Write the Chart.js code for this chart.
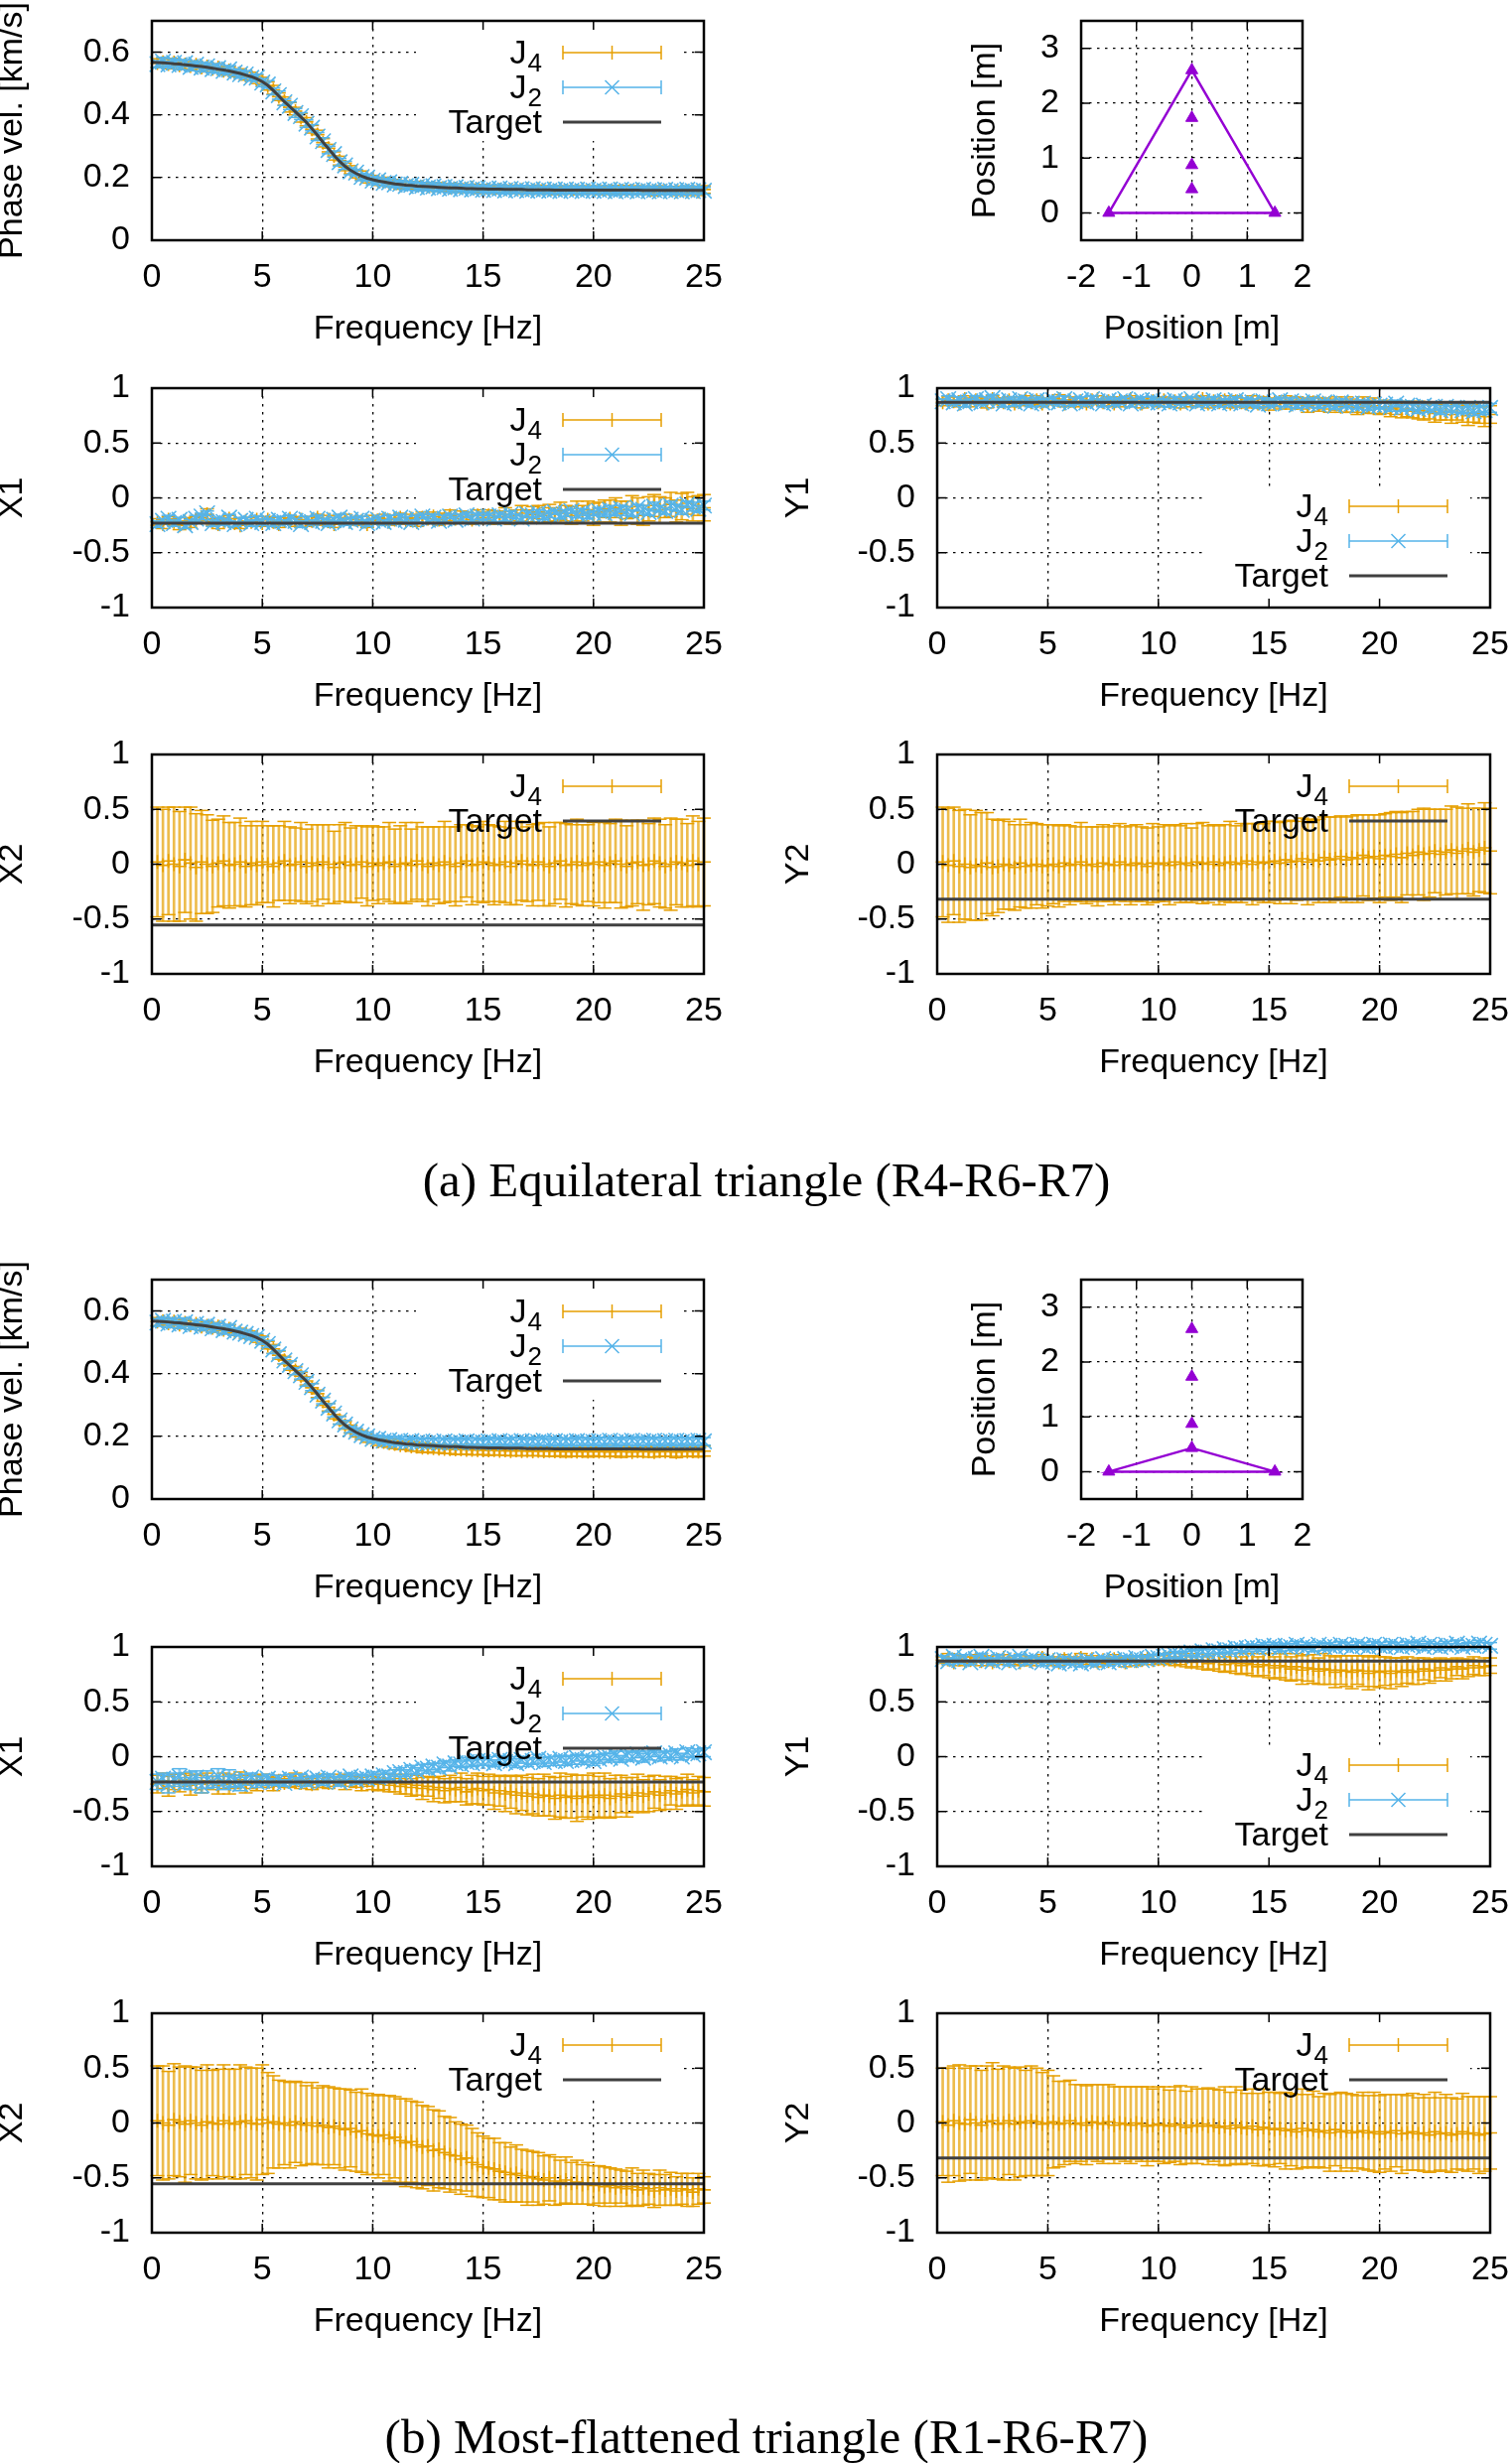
<!DOCTYPE html>
<html>
<head>
<meta charset="utf-8">
<script src="https://cdn.jsdelivr.net/npm/chart.js@4.4.1/dist/chart.umd.min.js"></script>
<style>
  html, body { margin: 0; padding: 0; background: #fff; overflow: hidden; }
  #page { position: relative; width: 1523px; height: 2481px; }
  canvas { position: absolute; }
  .cap { position: absolute; left: 322px; width: 900px; text-align: center; font: 49px/49px "Liberation Serif", serif; color: #000; white-space: nowrap; }
</style>
</head>
<body>
<div id="page"></div>
<script>
// frequency grid of the estimates [Hz]
const freq = [
  .25,.5,.75,1,1.25,1.5,1.75,2,2.25,2.5,2.75,3,3.25,3.5,3.75,4,4.25,4.5,4.75,5,
  5.25,5.5,5.75,6,6.25,6.5,6.75,7,7.25,7.5,7.75,8,8.25,8.5,8.75,9,9.25,9.5,9.75,10,
  10.25,10.5,10.75,11,11.25,11.5,11.75,12,12.25,12.5,12.75,13,13.25,13.5,13.75,14,14.25,14.5,14.75,15,
  15.25,15.5,15.75,16,16.25,16.5,16.75,17,17.25,17.5,17.75,18,18.25,18.5,18.75,19,19.25,19.5,19.75,20,
  20.25,20.5,20.75,21,21.25,21.5,21.75,22,22.25,22.5,22.75,23,23.25,23.5,23.75,24,24.25,24.5,24.75,25
];

const freqTicks = [0, 5, 10, 15, 20, 25];
const phaseTicks = [0, 0.2, 0.4, 0.6];
const unitTicks = [-1, -0.5, 0, 0.5, 1];
const posXTicks = [-2, -1, 0, 1, 2];
const posYTicks = [0, 1, 2, 3];

// target values
const phaseTarget0 = 0.568;
const phaseTarget = [
  .567,.566,.565,.563,.562,.560,.558,.556,.554,.552,.549,.546,.543,.540,.536,.532,.527,.522,.515,.506,
  .494,.478,.460,.442,.426,.410,.393,.376,.356,.335,.313,.292,.271,.252,.236,.223,.213,.205,.198,.193,
  .189,.186,.183,.180,.178,.176,.175,.173,.172,.171,.170,.169,.168,.167,.167,.166,.165,.165,.164,.164,
  .163,.163,.163,.162,.162,.162,.162,.161,.161,.161,.161,.161,.160,.160,.160,.160,.160,.160,.160,.160,
  .160,.160,.160,.160,.160,.160,.160,.160,.159,.159,.159,.159,.159,.159,.159,.159,.159,.159,.159,.159
];
const tgtX1 = -0.23, tgtY1 = 0.87, tgtX2 = -0.555, tgtY2 = -0.32;

// (a) equilateral triangle
const phJ4a = [
  .565,.568,.562,.567,.558,.561,.556,.560,.551,.554,.547,.551,.541,.542,.534,.534,.525,.524,.513,.508,
  .492,.480,.458,.444,.424,.412,.391,.378,.354,.337,.311,.294,.269,.254,.234,.225,.211,.207,.196,.195,
  .187,.188,.181,.182,.176,.178,.173,.175,.170,.173,.168,.171,.166,.169,.165,.168,.163,.167,.162,.166,
  .161,.165,.161,.164,.160,.164,.160,.163,.159,.163,.159,.163,.158,.162,.158,.162,.158,.162,.158,.162,
  .158,.162,.157,.162,.157,.161,.157,.161,.157,.161,.156,.161,.157,.161,.156,.161,.157,.161,.156,.162
];
const phJ4ea = [
  .014,.012,.015,.013,.012,.014,.013,.012,.014,.012,.013,.012,.014,.013,.012,.013,.014,.012,.013,.012,
  .013,.014,.012,.013,.015,.012,.014,.013,.012,.014,.013,.012,.013,.014,.012,.013,.012,.014,.013,.012,
  .012,.013,.011,.012,.013,.011,.012,.013,.012,.011,.012,.013,.011,.012,.013,.012,.011,.012,.013,.012,
  .012,.011,.013,.012,.011,.012,.013,.011,.012,.013,.012,.011,.013,.012,.011,.012,.013,.012,.011,.012,
  .013,.012,.011,.013,.012,.014,.012,.013,.011,.012,.014,.013,.012,.011,.013,.012,.014,.012,.013,.012
];
const phJ2a = [
  .562,.570,.561,.566,.559,.565,.553,.560,.551,.555,.546,.549,.540,.545,.535,.530,.529,.518,.519,.503,
  .497,.475,.463,.440,.429,.406,.396,.372,.359,.331,.316,.288,.275,.249,.239,.220,.216,.202,.200,.190,
  .191,.183,.185,.178,.180,.173,.177,.170,.174,.168,.172,.166,.170,.164,.169,.163,.167,.162,.166,.161,
  .165,.160,.165,.159,.164,.160,.163,.158,.163,.159,.162,.158,.162,.157,.162,.158,.161,.157,.162,.158,
  .161,.157,.162,.156,.161,.158,.160,.156,.161,.157,.160,.156,.161,.157,.160,.156,.161,.157,.160,.158
];
const phJ2ea = [
  .011,.013,.010,.012,.014,.011,.012,.010,.013,.011,.012,.014,.010,.012,.011,.013,.012,.010,.011,.013,
  .012,.011,.013,.010,.012,.014,.011,.012,.010,.013,.011,.012,.010,.012,.013,.011,.010,.012,.011,.013,
  .010,.011,.012,.010,.011,.013,.010,.012,.011,.010,.012,.011,.010,.012,.011,.010,.011,.012,.010,.011,
  .011,.010,.012,.011,.010,.011,.012,.010,.011,.012,.010,.011,.012,.010,.011,.010,.012,.011,.010,.011,
  .012,.010,.011,.013,.010,.012,.011,.010,.012,.011,.013,.010,.011,.012,.010,.011,.013,.010,.012,.011
];
const x1J4a = [
  -.22,-.24,-.20,-.22,-.25,-.21,-.23,-.20,-.18,-.15,-.22,-.24,-.21,-.19,-.23,-.25,-.21,-.22,-.20,-.23,
  -.20,-.22,-.24,-.21,-.19,-.22,-.20,-.23,-.21,-.18,-.22,-.20,-.24,-.21,-.19,-.22,-.20,-.21,-.24,-.20,
  -.21,-.19,-.22,-.20,-.18,-.21,-.19,-.22,-.18,-.19,-.17,-.20,-.18,-.16,-.19,-.17,-.18,-.20,-.16,-.18,
  -.16,-.18,-.17,-.15,-.18,-.16,-.14,-.17,-.15,-.13,-.16,-.14,-.15,-.12,-.14,-.16,-.12,-.14,-.11,-.15,
  -.13,-.10,-.12,-.09,-.14,-.11,-.08,-.12,-.16,-.10,-.07,-.11,-.09,-.06,-.12,-.08,-.05,-.10,-.07,-.09
];
const x1J4ea = [
  .03,.04,.03,.03,.04,.03,.04,.03,.03,.05,.03,.04,.03,.03,.04,.03,.03,.04,.03,.03,
  .03,.04,.03,.03,.03,.04,.03,.03,.04,.03,.03,.04,.03,.03,.04,.03,.03,.04,.03,.04,
  .03,.04,.03,.04,.04,.03,.04,.04,.05,.04,.04,.05,.04,.05,.04,.05,.05,.04,.05,.05,
  .05,.06,.05,.06,.06,.05,.07,.06,.07,.06,.07,.08,.06,.08,.07,.08,.09,.07,.08,.10,
  .09,.08,.10,.09,.11,.08,.10,.12,.09,.11,.10,.12,.09,.11,.10,.12,.10,.11,.09,.12
];
const x1J2a = [
  -.24,-.21,-.19,-.23,-.20,-.25,-.22,-.19,-.17,-.14,-.23,-.20,-.22,-.18,-.24,-.21,-.20,-.23,-.19,-.22,
  -.21,-.23,-.20,-.22,-.19,-.21,-.24,-.20,-.22,-.19,-.21,-.23,-.20,-.18,-.22,-.20,-.21,-.19,-.23,-.21,
  -.20,-.22,-.19,-.21,-.18,-.20,-.22,-.19,-.17,-.20,-.18,-.21,-.19,-.17,-.20,-.18,-.16,-.19,-.17,-.18,
  -.17,-.19,-.16,-.18,-.15,-.17,-.19,-.15,-.16,-.14,-.17,-.15,-.13,-.16,-.14,-.12,-.15,-.13,-.16,-.14,
  -.12,-.14,-.11,-.13,-.10,-.12,-.14,-.09,-.11,-.13,-.08,-.10,-.12,-.07,-.09,-.11,-.06,-.08,-.10,-.07
];
const x1J2ea = [
  .03,.02,.03,.03,.02,.03,.02,.03,.03,.02,.03,.02,.03,.03,.02,.03,.02,.03,.02,.03,
  .02,.03,.03,.02,.03,.02,.03,.03,.02,.03,.02,.03,.02,.03,.03,.02,.03,.02,.03,.02,
  .03,.02,.03,.02,.03,.03,.02,.03,.02,.03,.03,.02,.03,.02,.03,.03,.02,.03,.03,.02,
  .03,.03,.02,.03,.03,.02,.03,.03,.02,.03,.03,.03,.02,.03,.03,.02,.03,.03,.03,.02,
  .03,.03,.04,.03,.03,.04,.03,.03,.04,.03,.04,.03,.03,.04,.03,.04,.03,.04,.03,.04
];
const y1J4a = [
  .87,.89,.88,.86,.90,.87,.89,.88,.86,.90,.88,.87,.89,.86,.88,.90,.87,.89,.86,.88,
  .88,.90,.86,.89,.87,.88,.86,.89,.90,.87,.88,.86,.89,.87,.90,.88,.86,.89,.88,.87,
  .89,.87,.88,.86,.89,.87,.88,.90,.86,.88,.87,.89,.86,.88,.87,.86,.88,.86,.87,.85,
  .87,.86,.88,.85,.87,.86,.84,.87,.85,.86,.84,.86,.83,.85,.84,.82,.85,.83,.84,.82,
  .83,.81,.82,.80,.81,.79,.80,.78,.79,.77,.78,.79,.76,.78,.77,.75,.77,.76,.74,.76
];
const y1J4ea = [
  .03,.03,.04,.03,.03,.04,.03,.03,.04,.03,.03,.04,.03,.03,.04,.03,.03,.04,.03,.03,
  .03,.04,.03,.03,.04,.03,.03,.04,.03,.03,.04,.03,.03,.04,.03,.03,.04,.03,.03,.04,
  .03,.04,.03,.04,.03,.04,.04,.03,.04,.04,.03,.04,.04,.05,.04,.04,.05,.04,.05,.05,
  .04,.05,.05,.04,.05,.05,.06,.05,.06,.05,.06,.06,.05,.07,.06,.06,.07,.06,.07,.06,
  .06,.07,.06,.07,.07,.06,.08,.07,.07,.08,.07,.08,.08,.07,.08,.09,.08,.08,.09,.08
];
const y1J2a = [
  .88,.90,.87,.89,.86,.88,.90,.87,.89,.91,.88,.86,.89,.87,.90,.88,.86,.89,.87,.88,
  .89,.87,.90,.86,.88,.89,.87,.90,.88,.86,.89,.87,.88,.90,.86,.88,.89,.87,.89,.87,
  .88,.86,.89,.87,.88,.90,.86,.88,.87,.89,.86,.88,.87,.89,.86,.88,.87,.85,.88,.86,
  .87,.89,.86,.88,.85,.87,.86,.88,.85,.87,.86,.84,.87,.85,.86,.84,.86,.83,.85,.84,
  .85,.83,.86,.82,.84,.83,.81,.84,.82,.83,.80,.83,.81,.82,.80,.82,.79,.81,.80,.82
];
const y1J2ea = [
  .02,.03,.02,.03,.03,.02,.03,.02,.03,.03,.02,.03,.02,.03,.02,.03,.03,.02,.03,.02,
  .03,.02,.03,.02,.03,.03,.02,.03,.02,.03,.02,.03,.03,.02,.03,.02,.03,.02,.03,.03,
  .02,.03,.03,.02,.03,.02,.03,.03,.02,.03,.03,.02,.03,.03,.02,.03,.03,.02,.03,.03,
  .03,.02,.03,.03,.03,.02,.03,.03,.03,.02,.03,.03,.03,.03,.02,.03,.03,.03,.03,.03,
  .03,.04,.03,.03,.04,.03,.04,.03,.04,.03,.04,.04,.03,.04,.03,.04,.04,.03,.04,.04
];
const x2J4a = [
  .02,-.01,.03,.00,-.02,.04,.01,-.03,.02,.00,-.02,.01,.03,-.01,.00,.02,-.02,.01,-.01,.02,
  .00,-.02,.01,.03,-.01,.00,.02,-.02,.01,-.01,.02,.00,-.03,.01,.02,-.01,.00,.02,-.02,.01,
  -.01,.01,.02,-.02,.00,.01,-.01,.03,.00,-.02,.01,-.01,.02,.00,-.02,.01,.03,-.01,.00,.02,
  .01,-.01,.00,.02,-.02,.01,.03,.00,-.01,.02,.00,-.02,.01,.03,-.01,.00,.02,-.01,.01,.00,
  .02,-.01,.01,.03,.00,-.02,.01,.02,-.01,.00,.03,.01,-.02,.00,.02,.01,-.01,.03,.00,.02
];
const x2J4ea = [
  .50,.51,.49,.52,.50,.48,.51,.49,.47,.45,.42,.40,.41,.39,.38,.40,.37,.38,.36,.37,
  .35,.37,.34,.36,.35,.33,.36,.34,.35,.37,.34,.36,.33,.35,.36,.34,.35,.33,.36,.34,
  .35,.33,.36,.34,.35,.37,.33,.35,.34,.36,.33,.35,.37,.34,.36,.35,.33,.36,.34,.37,
  .35,.36,.34,.37,.35,.38,.36,.34,.37,.35,.38,.36,.37,.35,.38,.36,.39,.37,.35,.38,
  .37,.39,.36,.38,.40,.37,.39,.38,.41,.37,.39,.40,.38,.42,.39,.40,.38,.41,.39,.40
];
const y2J4a = [
  .02,-.01,.03,-.02,.00,-.03,-.01,-.02,.01,-.03,-.02,.00,-.01,-.03,.01,-.02,-.01,.00,-.02,-.01,
  .00,-.02,.01,-.01,.00,.02,-.01,.00,-.02,.01,.00,-.01,.02,.00,-.01,.01,.00,-.02,.01,.00,
  .01,-.01,.02,.00,.01,-.01,.02,.01,.00,.02,-.01,.01,.02,.00,.01,.03,.00,.02,.01,.02,
  .03,.01,.04,.02,.03,.05,.02,.04,.03,.06,.04,.05,.07,.04,.06,.05,.08,.06,.07,.05,
  .08,.07,.09,.06,.10,.08,.11,.09,.10,.12,.09,.11,.13,.10,.12,.14,.11,.13,.15,.12
];
const y2J4ea = [
  .50,.52,.49,.51,.50,.48,.50,.49,.46,.44,.42,.41,.40,.39,.40,.38,.39,.37,.38,.37,
  .36,.37,.35,.36,.34,.36,.35,.34,.36,.35,.34,.36,.35,.34,.36,.35,.34,.35,.36,.34,
  .35,.36,.34,.35,.36,.34,.35,.37,.35,.34,.36,.35,.37,.35,.36,.34,.37,.35,.36,.37,
  .36,.37,.35,.38,.36,.37,.39,.36,.38,.37,.39,.38,.37,.39,.38,.40,.37,.39,.38,.40,
  .38,.40,.39,.41,.38,.40,.39,.42,.40,.38,.41,.39,.40,.42,.39,.41,.40,.38,.41,.39
];

// (b) most-flattened triangle
const phJ4b = [
  .566,.567,.561,.566,.557,.562,.555,.559,.550,.553,.546,.550,.540,.543,.533,.533,.526,.523,.512,.507,
  .491,.479,.459,.443,.425,.410,.392,.377,.355,.336,.312,.293,.270,.252,.235,.223,.210,.204,.194,.190,
  .184,.182,.178,.176,.172,.171,.168,.167,.164,.164,.162,.161,.160,.159,.158,.158,.157,.157,.156,.156,
  .155,.156,.154,.155,.153,.155,.153,.154,.152,.154,.152,.154,.152,.153,.151,.153,.151,.153,.151,.153,
  .151,.153,.150,.153,.151,.152,.150,.153,.151,.152,.150,.153,.151,.152,.150,.153,.151,.152,.151,.153
];
const phJ4eb = [
  .013,.012,.014,.012,.013,.011,.014,.012,.013,.012,.014,.013,.012,.013,.011,.012,.014,.013,.012,.013,
  .012,.014,.013,.012,.014,.013,.012,.013,.014,.012,.013,.012,.014,.013,.012,.013,.012,.014,.013,.012,
  .013,.014,.013,.015,.014,.013,.015,.014,.016,.014,.015,.013,.015,.014,.016,.015,.014,.016,.015,.014,
  .016,.015,.014,.016,.015,.017,.015,.016,.014,.016,.015,.017,.016,.015,.017,.016,.015,.016,.017,.015,
  .016,.017,.015,.016,.018,.016,.015,.017,.016,.018,.016,.017,.015,.016,.018,.017,.016,.015,.017,.016
];
const phJ2b = [
  .563,.569,.560,.566,.557,.564,.552,.559,.550,.556,.545,.550,.539,.546,.534,.531,.527,.520,.517,.505,
  .495,.477,.462,.442,.428,.408,.395,.374,.357,.333,.314,.291,.273,.251,.238,.222,.215,.204,.200,.192,
  .192,.186,.188,.183,.186,.181,.185,.180,.184,.179,.183,.180,.184,.179,.183,.180,.184,.181,.183,.180,
  .184,.181,.185,.180,.184,.182,.185,.181,.184,.182,.186,.181,.185,.182,.184,.181,.185,.183,.184,.182,
  .185,.182,.186,.181,.185,.183,.186,.182,.185,.183,.186,.182,.185,.184,.186,.182,.185,.183,.186,.184
];
const phJ2eb = [
  .012,.010,.013,.011,.012,.014,.010,.012,.011,.013,.012,.010,.013,.011,.012,.010,.013,.012,.011,.012,
  .011,.013,.012,.010,.013,.011,.012,.014,.011,.012,.010,.013,.011,.012,.013,.010,.012,.011,.013,.012,
  .012,.011,.013,.012,.014,.011,.013,.012,.011,.013,.012,.014,.011,.012,.013,.011,.012,.014,.012,.011,
  .013,.012,.011,.013,.012,.014,.012,.011,.013,.012,.014,.011,.012,.013,.011,.012,.014,.013,.011,.012,
  .012,.014,.011,.013,.012,.011,.013,.012,.014,.011,.012,.013,.011,.014,.012,.013,.011,.012,.013,.012
];
const x1J4b = [
  -.25,-.22,-.27,-.23,-.24,-.21,-.26,-.23,-.25,-.22,-.24,-.26,-.22,-.25,-.23,-.21,-.25,-.23,-.24,-.22,
  -.23,-.25,-.22,-.24,-.23,-.21,-.24,-.22,-.25,-.23,-.22,-.24,-.23,-.21,-.24,-.22,-.23,-.25,-.22,-.24,
  -.25,-.23,-.26,-.24,-.27,-.25,-.28,-.26,-.29,-.27,-.30,-.28,-.31,-.29,-.30,-.28,-.32,-.30,-.29,-.31,
  -.30,-.33,-.31,-.34,-.32,-.35,-.33,-.36,-.34,-.37,-.35,-.36,-.38,-.35,-.37,-.36,-.38,-.36,-.37,-.35,
  -.37,-.35,-.38,-.36,-.34,-.37,-.35,-.33,-.36,-.34,-.32,-.35,-.33,-.31,-.34,-.32,-.30,-.33,-.31,-.32
];
const x1J4eb = [
  .08,.07,.09,.07,.08,.06,.09,.07,.08,.07,.06,.08,.07,.09,.06,.07,.08,.06,.07,.06,
  .05,.06,.05,.04,.05,.06,.05,.04,.05,.05,.06,.05,.04,.05,.06,.05,.05,.06,.05,.06,
  .06,.07,.06,.08,.07,.09,.08,.09,.10,.09,.11,.10,.11,.12,.11,.13,.12,.13,.14,.13,
  .14,.15,.14,.16,.15,.17,.16,.17,.18,.17,.19,.18,.19,.20,.19,.20,.21,.19,.20,.20,
  .19,.20,.18,.19,.17,.18,.16,.17,.15,.16,.15,.14,.15,.13,.14,.13,.14,.12,.13,.13
];
const x1J2b = [
  -.23,-.20,-.25,-.21,-.18,-.24,-.22,-.19,-.26,-.21,-.23,-.18,-.24,-.20,-.22,-.25,-.21,-.19,-.23,-.22,
  -.20,-.23,-.21,-.24,-.20,-.22,-.19,-.23,-.21,-.20,-.22,-.19,-.21,-.23,-.20,-.18,-.21,-.19,-.20,-.18,
  -.19,-.17,-.18,-.15,-.14,-.15,-.12,-.13,-.10,-.11,-.09,-.10,-.07,-.09,-.06,-.07,-.05,-.06,-.04,-.05,
  -.04,-.06,-.03,-.05,-.04,-.06,-.03,-.05,-.04,-.02,-.05,-.03,-.04,-.02,-.04,-.03,-.01,-.03,-.02,-.04,
  -.02,.00,-.01,.01,-.02,.01,.00,.02,-.01,.01,.03,.00,.02,.01,.03,.00,.04,.02,.03,.04
];
const x1J2eb = [
  .07,.05,.08,.06,.07,.05,.08,.06,.07,.08,.05,.07,.06,.08,.05,.06,.05,.04,.05,.04,
  .04,.03,.04,.03,.04,.03,.03,.04,.03,.03,.04,.03,.03,.04,.03,.03,.04,.03,.03,.04,
  .03,.04,.03,.03,.04,.03,.04,.03,.03,.04,.03,.04,.03,.04,.03,.03,.04,.03,.04,.03,
  .04,.03,.04,.03,.04,.04,.03,.04,.03,.04,.04,.03,.04,.03,.04,.04,.03,.04,.03,.04,
  .04,.03,.04,.04,.03,.04,.04,.03,.04,.04,.03,.04,.03,.04,.04,.03,.04,.03,.04,.04
];
const y1J4b = [
  .88,.90,.86,.89,.87,.88,.90,.87,.89,.86,.88,.90,.87,.88,.86,.89,.87,.88,.90,.87,
  .88,.86,.89,.87,.88,.90,.87,.89,.86,.88,.87,.89,.88,.86,.89,.87,.88,.90,.88,.89,
  .88,.90,.87,.89,.88,.86,.88,.87,.85,.87,.86,.84,.86,.85,.83,.85,.84,.82,.84,.83,
  .81,.83,.82,.80,.82,.79,.81,.80,.78,.80,.79,.77,.79,.78,.77,.79,.78,.76,.78,.77,
  .78,.76,.78,.77,.79,.77,.78,.80,.78,.79,.81,.79,.80,.82,.80,.81,.83,.81,.82,.83
];
const y1J4eb = [
  .03,.04,.03,.03,.04,.03,.03,.04,.03,.03,.04,.03,.03,.04,.03,.03,.04,.03,.03,.04,
  .03,.03,.04,.03,.03,.04,.03,.03,.04,.03,.03,.04,.03,.04,.03,.04,.04,.03,.04,.04,
  .04,.05,.04,.05,.06,.05,.06,.07,.06,.07,.08,.07,.08,.09,.08,.09,.10,.09,.10,.11,
  .10,.11,.12,.11,.12,.13,.12,.13,.12,.14,.13,.14,.13,.14,.15,.13,.14,.15,.14,.14,
  .13,.14,.12,.13,.12,.11,.12,.10,.11,.10,.09,.10,.09,.08,.09,.08,.08,.07,.08,.07
];
const y1J2b = [
  .89,.87,.91,.88,.90,.86,.89,.91,.88,.87,.90,.88,.86,.89,.91,.87,.89,.88,.86,.88,
  .87,.85,.88,.86,.87,.85,.88,.86,.87,.89,.86,.88,.87,.89,.88,.90,.88,.89,.91,.90,
  .91,.92,.93,.92,.94,.95,.94,.96,.95,.97,.96,.98,.97,.99,.98,.99,1.0,.99,1.01,1.0,
  1.01,.99,1.01,1.0,1.02,1.0,1.01,.99,1.02,1.0,1.01,1.0,1.02,1.01,1.0,1.02,1.01,1.0,1.02,1.01,
  1.0,1.02,1.01,1.0,1.02,1.01,1.03,1.0,1.02,1.01,1.0,1.02,1.01,1.03,1.0,1.02,1.01,1.03,1.02,1.01
];
const y1J2eb = [
  .03,.03,.02,.03,.03,.02,.03,.03,.02,.03,.03,.02,.03,.03,.02,.03,.03,.02,.03,.03,
  .02,.03,.03,.02,.03,.03,.02,.03,.03,.02,.03,.03,.02,.03,.03,.02,.03,.03,.02,.03,
  .03,.02,.03,.03,.02,.03,.03,.02,.03,.03,.02,.03,.03,.02,.03,.03,.02,.03,.03,.02,
  .03,.03,.02,.03,.03,.02,.03,.03,.02,.03,.03,.02,.03,.03,.02,.03,.03,.02,.03,.03,
  .02,.03,.03,.02,.03,.03,.02,.03,.03,.02,.03,.03,.02,.03,.03,.02,.03,.03,.02,.03
];
const x2J4b = [
  .02,.00,-.02,.03,.01,-.01,.02,.00,-.02,.01,.00,-.01,.02,.00,-.01,.01,.02,.00,-.01,.03,
  .00,.01,-.01,.00,-.02,.01,-.01,-.02,.00,-.03,-.02,-.04,-.03,-.05,-.06,-.05,-.08,-.07,-.10,-.11,
  -.12,-.11,-.14,-.13,-.16,-.18,-.17,-.20,-.22,-.21,-.25,-.24,-.27,-.29,-.30,-.33,-.32,-.36,-.38,-.40,
  -.41,-.42,-.44,-.45,-.47,-.46,-.48,-.50,-.49,-.51,-.52,-.50,-.53,-.54,-.52,-.55,-.54,-.56,-.55,-.57,
  -.56,-.58,-.57,-.59,-.58,-.60,-.58,-.61,-.59,-.60,-.62,-.59,-.61,-.60,-.62,-.60,-.61,-.63,-.60,-.61
];
const x2J4eb = [
  .50,.52,.49,.51,.50,.53,.49,.51,.50,.52,.48,.50,.51,.49,.50,.52,.49,.50,.51,.50,
  .46,.42,.40,.38,.39,.37,.38,.36,.37,.35,.36,.37,.35,.36,.37,.35,.36,.38,.37,.36,
  .38,.36,.39,.37,.38,.40,.37,.39,.38,.36,.37,.35,.33,.34,.31,.32,.30,.31,.29,.28,
  .27,.28,.26,.27,.25,.26,.24,.25,.23,.24,.22,.21,.22,.20,.21,.19,.20,.18,.19,.18,
  .17,.18,.16,.17,.15,.16,.17,.15,.16,.14,.15,.16,.14,.15,.13,.14,.15,.13,.14,.12
];
const y2J4b = [
  .01,-.02,.02,.00,-.01,.03,.00,-.02,.01,.02,-.01,.00,.02,-.01,.01,.00,.02,.01,-.01,.00,
  .01,-.01,.00,.02,-.01,.00,-.02,.01,.00,-.01,.01,-.02,.00,-.01,-.02,.00,-.01,-.03,-.02,-.01,
  -.02,-.03,-.01,-.02,-.04,-.02,-.03,-.01,-.03,-.02,-.04,-.03,-.05,-.02,-.04,-.05,-.03,-.06,-.04,-.05,
  -.06,-.05,-.07,-.06,-.08,-.05,-.07,-.06,-.08,-.07,-.09,-.06,-.08,-.07,-.09,-.08,-.07,-.09,-.08,-.10,
  -.08,-.09,-.07,-.10,-.09,-.08,-.10,-.09,-.11,-.08,-.10,-.09,-.11,-.10,-.08,-.10,-.09,-.11,-.10,-.09
];
const y2J4eb = [
  .49,.52,.50,.53,.51,.49,.52,.50,.51,.53,.50,.52,.49,.51,.50,.48,.50,.49,.47,.48,
  .42,.39,.38,.37,.36,.35,.36,.34,.35,.36,.34,.35,.33,.34,.35,.33,.34,.36,.33,.34,
  .35,.33,.34,.36,.33,.35,.34,.32,.35,.33,.34,.36,.33,.35,.34,.32,.34,.33,.35,.33,
  .34,.32,.35,.33,.34,.36,.33,.35,.32,.34,.35,.33,.36,.34,.35,.33,.35,.34,.36,.35,
  .34,.35,.33,.36,.34,.35,.33,.35,.34,.36,.33,.35,.34,.32,.35,.34,.33,.35,.34,.33
];

// receiver layout [m]
const rxName = ['R1', 'R2', 'R3', 'R4', 'R6', 'R7'];
const rxX = [0, 0, 0, 0, -1.5, 1.5];
const rxY = [0.43, 0.87, 1.73, 2.6, 0, 0];
const triA = ['R4', 'R6', 'R7'];
const triB = ['R1', 'R6', 'R7'];

const keyLabel = ['J', 'J', 'Target'];
const keySub = ['4', '2', ''];
const keyKind = ['cross', 'crossRot', 'line'];

const captions = ['(a) Equilateral triangle (R4-R6-R7)', '(b) Most-flattened triangle (R1-R6-R7)'];

const C_J4 = '#e69f00', C_J2 = '#56b4e9', C_TGT = '#404040', C_RX = '#9400d3';
const BAR_J4 = 'rgba(230,159,0,0.7)', BAR_J2 = 'rgba(86,180,233,0.7)';
const keyColor = [C_J4, C_J2, C_TGT];
const FONT = '34px "Liberation Sans", Arial, sans-serif';
const SUB_FONT = '26px "Liberation Sans", Arial, sans-serif';

Chart.defaults.font.family = '"Liberation Sans", Arial, sans-serif';
Chart.defaults.font.size = 34;
Chart.defaults.color = '#000';

const page = document.getElementById('page');
const cols = {
  L: {left: -6, width: 741, axisW: 159, padR: 26, titleX: 19},
  R: {left: 770, width: 761, axisW: 174, padR: 30, titleX: 35},
  T: {left: 960, width: 392, axisW: 129, padR: 40, titleX: 33}
};
const rowTops = [0, 370, 739, 1268, 1638, 2007];
const CANVAS_H = 352, PAD_T = 21, AXIS_H = 110;

function keyBox(a, key) {
  const h = 32 + 35 * (key.rows.length - 1) + 19;
  return {x: a.right - 290, w: 270, y: key.pos === 'top' ? a.top : a.bottom - h, h};
}

function drawKey(ctx, a, key) {
  const n = key.rows.length;
  const tx = a.right - 163, s1 = a.right - 142, s2 = a.right - 43, sc = (s1 + s2) / 2;
  key.rows.forEach((k, i) => {
    const y = key.pos === 'top' ? a.top + 32 + 35 * i : a.bottom - 32 - 35 * (n - 1 - i);
    ctx.fillStyle = '#000';
    ctx.textAlign = 'right';
    ctx.textBaseline = 'alphabetic';
    let right = tx;
    if (keySub[k]) {
      ctx.font = SUB_FONT;
      ctx.fillText(keySub[k], right, y + 19);
      right -= ctx.measureText(keySub[k]).width + 1;
    }
    ctx.font = FONT;
    ctx.fillText(keyLabel[k], right, y + 11);

    ctx.strokeStyle = keyColor[k];
    ctx.lineWidth = keyKind[k] === 'line' ? 3 : 1.5;
    ctx.beginPath();
    ctx.moveTo(s1, y); ctx.lineTo(s2, y);
    if (keyKind[k] !== 'line') {
      ctx.moveTo(s1, y - 7); ctx.lineTo(s1, y + 7);
      ctx.moveTo(s2, y - 7); ctx.lineTo(s2, y + 7);
    }
    if (keyKind[k] === 'cross') { ctx.moveTo(sc, y - 7); ctx.lineTo(sc, y + 7); }
    if (keyKind[k] === 'crossRot') {
      ctx.moveTo(sc - 7, y - 7); ctx.lineTo(sc + 7, y + 7);
      ctx.moveTo(sc - 7, y + 7); ctx.lineTo(sc + 7, y - 7);
    }
    ctx.stroke();
  });
}

// gnuplot look: blank key area under data, inward ticks, frame, key, rotated y label
const gnuStyle = {
  id: 'gnuStyle',
  beforeDatasetsDraw(chart, args, o) {
    if (!o.key) return;
    const b = keyBox(chart.chartArea, o.key);
    const ctx = chart.ctx;
    ctx.save();
    ctx.fillStyle = '#fff';
    ctx.fillRect(b.x, b.y, b.w, b.h);
    ctx.restore();
  },
  afterDatasetsDraw(chart, args, o) {
    const a = chart.chartArea, ctx = chart.ctx;
    const xs = chart.scales.x, ys = chart.scales.y;
    ctx.save();
    ctx.strokeStyle = '#000';
    ctx.lineWidth = 1.5;
    ctx.beginPath();
    xs.ticks.forEach(t => {
      const px = xs.getPixelForValue(t.value);
      ctx.moveTo(px, a.bottom); ctx.lineTo(px, a.bottom - 9);
      ctx.moveTo(px, a.top); ctx.lineTo(px, a.top + 9);
    });
    ys.ticks.forEach(t => {
      const py = ys.getPixelForValue(t.value);
      ctx.moveTo(a.left, py); ctx.lineTo(a.left + 9, py);
      ctx.moveTo(a.right, py); ctx.lineTo(a.right - 9, py);
    });
    ctx.stroke();
    ctx.lineWidth = 2.5;
    ctx.strokeRect(a.left, a.top, a.right - a.left, a.bottom - a.top);

    if (o.key) drawKey(ctx, a, o.key);

    ctx.translate(o.titleX, (a.top + a.bottom) / 2);
    ctx.rotate(-Math.PI / 2);
    ctx.font = FONT;
    ctx.fillStyle = '#000';
    ctx.textAlign = 'center';
    ctx.textBaseline = 'middle';
    ctx.fillText(o.yTitle, 0, 0);
    ctx.restore();
  }
};

function axis(min, max, tickVals, isX, size, title) {
  const s = {
    type: 'linear',
    position: isX ? 'bottom' : 'left',
    min, max,
    offset: false,
    afterBuildTicks: sc => { sc.ticks = tickVals.map(v => ({value: v})); },
    ticks: {padding: isX ? 17 : 22, autoSkip: false, maxRotation: 0, color: '#000', callback: v => String(v)},
    grid: {color: '#000', lineWidth: 1.3, drawTicks: false, offset: false},
    border: {display: false, dash: [2.5, 5.5]},
    afterFit: sc => {
      if (isX) { sc.height = size; sc.paddingLeft = 0; sc.paddingRight = 0; }
      else { sc.width = size; sc.paddingTop = 0; sc.paddingBottom = 0; }
    }
  };
  if (isX) s.title = {display: true, text: title, padding: 0, color: '#000'};
  return s;
}

function makeCanvas(col, row) {
  const c = cols[col];
  const cv = document.createElement('canvas');
  cv.width = c.width;
  cv.height = CANVAS_H;
  cv.style.left = c.left + 'px';
  cv.style.top = rowTops[row] + 'px';
  cv.style.width = c.width + 'px';
  cv.style.height = CANVAS_H + 'px';
  page.appendChild(cv);
  return cv;
}

function panel(col, row, datasets, xAxis, yAxis, opts) {
  const c = cols[col];
  return new Chart(makeCanvas(col, row), {
    type: 'scatter',
    data: {datasets},
    options: {
      responsive: false,
      animation: false,
      devicePixelRatio: 1,
      events: [],
      layout: {padding: {top: PAD_T, right: c.padR, left: 0, bottom: 0}},
      scales: {x: xAxis, y: yAxis},
      plugins: {
        legend: {display: false},
        tooltip: {enabled: false},
        gnuStyle: Object.assign({titleX: c.titleX}, opts)
      }
    },
    plugins: [gnuStyle]
  });
}

function withErrors(mean, err, color, barColor, style, radius, order) {
  const bars = [], caps = [], pts = [];
  freq.forEach((f, i) => {
    const lo = mean[i] - err[i], hi = mean[i] + err[i];
    bars.push({x: f, y: [lo, hi]});
    caps.push({x: f, y: lo}, {x: f, y: hi});
    pts.push({x: f, y: mean[i]});
  });
  return [
    {type: 'bar', data: bars, backgroundColor: barColor, borderWidth: 0, barThickness: 2, grouped: false, order: order + 2, clip: false},
    {type: 'scatter', data: caps, pointStyle: 'line', pointRadius: 7, borderColor: color, pointBorderColor: color, pointBorderWidth: 1.5, order: order + 1, clip: false},
    {type: 'scatter', data: pts, pointStyle: style, pointRadius: radius, borderColor: color, pointBorderColor: color, pointBorderWidth: 1.6, order: order, clip: false}
  ];
}

function targetLine(xs, ys) {
  return {type: 'line', data: xs.map((x, i) => ({x, y: ys[i]})), borderColor: C_TGT, borderWidth: 3, pointRadius: 0, order: 0, clip: false};
}

function constTarget(v) {
  return targetLine([freqTicks[0], freqTicks[freqTicks.length - 1]], [v, v]);
}

function freqPanel(col, row, yTitle, yMin, yMax, yTicks, target, j4, j4e, j2, j2e, key) {
  let sets = [target];
  if (j2) sets = sets.concat(withErrors(j2, j2e, C_J2, BAR_J2, 'crossRot', 11, 1));
  sets = sets.concat(withErrors(j4, j4e, C_J4, BAR_J4, 'cross', 7, 4));
  panel(col, row, sets,
    axis(0, 25, freqTicks, true, AXIS_H, 'Frequency [Hz]'),
    axis(yMin, yMax, yTicks, false, cols[col].axisW),
    {yTitle, key});
}

function layoutPanel(row, tri) {
  const path = tri.concat([tri[0]]).map(n => rxName.indexOf(n));
  const sets = [
    {type: 'line', data: path.map(i => ({x: rxX[i], y: rxY[i]})), borderColor: C_RX, borderWidth: 2.5, pointRadius: 0, order: 1, clip: false},
    {type: 'scatter', data: rxX.map((x, i) => ({x, y: rxY[i]})), pointStyle: 'triangle', pointRadius: 7,
      backgroundColor: C_RX, borderColor: C_RX, pointBackgroundColor: C_RX, pointBorderColor: C_RX, order: 0, clip: false}
  ];
  panel('T', row, sets,
    axis(-2, 2, posXTicks, true, AXIS_H, 'Position [m]'),
    axis(-0.5, 3.5, posYTicks, false, cols.T.axisW),
    {yTitle: 'Position [m]'});
}

const phaseTargetLine = targetLine([0].concat(freq), [phaseTarget0].concat(phaseTarget));
const keyTop3 = {pos: 'top', rows: [0, 1, 2]};
const keyBot3 = {pos: 'bottom', rows: [0, 1, 2]};
const keyTop2 = {pos: 'top', rows: [0, 2]};

// (a)
freqPanel('L', 0, 'Phase vel. [km/s]', 0, 0.7, phaseTicks, phaseTargetLine, phJ4a, phJ4ea, phJ2a, phJ2ea, keyTop3);
layoutPanel(0, triA);
freqPanel('L', 1, 'X1', -1, 1, unitTicks, constTarget(tgtX1), x1J4a, x1J4ea, x1J2a, x1J2ea, keyTop3);
freqPanel('R', 1, 'Y1', -1, 1, unitTicks, constTarget(tgtY1), y1J4a, y1J4ea, y1J2a, y1J2ea, keyBot3);
freqPanel('L', 2, 'X2', -1, 1, unitTicks, constTarget(tgtX2), x2J4a, x2J4ea, null, null, keyTop2);
freqPanel('R', 2, 'Y2', -1, 1, unitTicks, constTarget(tgtY2), y2J4a, y2J4ea, null, null, keyTop2);

// (b)
freqPanel('L', 3, 'Phase vel. [km/s]', 0, 0.7, phaseTicks, phaseTargetLine, phJ4b, phJ4eb, phJ2b, phJ2eb, keyTop3);
layoutPanel(3, triB);
freqPanel('L', 4, 'X1', -1, 1, unitTicks, constTarget(tgtX1), x1J4b, x1J4eb, x1J2b, x1J2eb, keyTop3);
freqPanel('R', 4, 'Y1', -1, 1, unitTicks, constTarget(tgtY1), y1J4b, y1J4eb, y1J2b, y1J2eb, keyBot3);
freqPanel('L', 5, 'X2', -1, 1, unitTicks, constTarget(tgtX2), x2J4b, x2J4eb, null, null, keyTop2);
freqPanel('R', 5, 'Y2', -1, 1, unitTicks, constTarget(tgtY2), y2J4b, y2J4eb, null, null, keyTop2);

const capTops = [1164, 2430];
captions.forEach((t, i) => {
  const d = document.createElement('div');
  d.className = 'cap';
  d.style.top = capTops[i] + 'px';
  d.textContent = t;
  page.appendChild(d);
});
</script>
</body>
</html>
